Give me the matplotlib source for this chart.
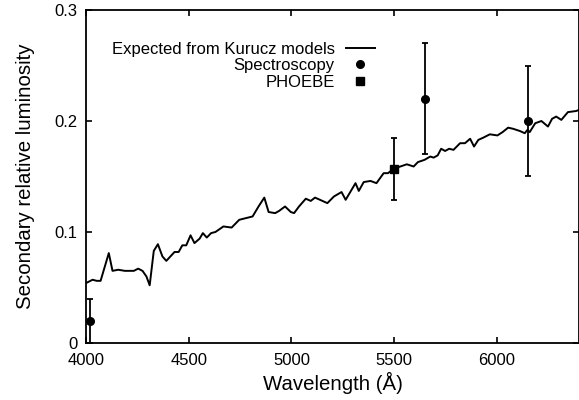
import matplotlib
matplotlib.use("Agg")
import matplotlib.pyplot as plt

plt.rcParams['font.family'] = ['Liberation Sans', 'DejaVu Sans']
plt.rcParams['font.size'] = 12

# Kurucz model curve
wl = [4000, 4011, 4032, 4052, 4071, 4111, 4129, 4157, 4189, 4213, 4233, 4254, 4275,
      4294, 4310, 4330, 4350, 4372, 4391, 4431, 4451, 4469, 4488, 4509, 4528, 4553,
      4569, 4588, 4609, 4630, 4669, 4709, 4746, 4811, 4840, 4868, 4889, 4921, 4940,
      4969, 4997, 5013, 5037, 5070, 5094, 5115, 5175, 5207, 5244, 5264, 5296, 5312,
      5328, 5352, 5385, 5414, 5449, 5470, 5498, 5530, 5562, 5595, 5616, 5648, 5676,
      5692, 5712, 5729, 5748, 5768, 5789, 5821, 5845, 5870, 5889, 5910, 5934, 5966,
      6003, 6028, 6055, 6079, 6112, 6136, 6149, 6160, 6187, 6217, 6249, 6269, 6289,
      6314, 6346, 6386, 6400]
lum = [0.054, 0.055, 0.057, 0.056, 0.056, 0.081, 0.065, 0.066, 0.065, 0.065, 0.065, 0.067, 0.065,
       0.060, 0.052, 0.083, 0.089, 0.078, 0.074, 0.082, 0.082, 0.088, 0.088, 0.097, 0.090, 0.094,
       0.099, 0.095, 0.099, 0.100, 0.105, 0.104, 0.111, 0.114, 0.123, 0.131, 0.118, 0.117, 0.119,
       0.123, 0.118, 0.117, 0.123, 0.130, 0.128, 0.131, 0.126, 0.132, 0.136, 0.129, 0.139, 0.144,
       0.137, 0.145, 0.146, 0.144, 0.153, 0.153, 0.157, 0.159, 0.161, 0.159, 0.163, 0.165, 0.168,
       0.167, 0.169, 0.175, 0.173, 0.175, 0.174, 0.180, 0.180, 0.184, 0.177, 0.183, 0.185, 0.188,
       0.187, 0.190, 0.194, 0.193, 0.191, 0.189, 0.192, 0.190, 0.198, 0.200, 0.195, 0.202, 0.204,
       0.201, 0.208, 0.209, 0.210]

# spectroscopy points
spec_wl = [4020, 5650, 6150]
spec_lum = [0.02, 0.22, 0.20]
spec_err = [0.02, 0.05, 0.05]

# PHOEBE point
ph_wl = [5500]
ph_lum = [0.157]
ph_err = [0.028]

fig = plt.figure(figsize=(5.79, 4.00), dpi=100)
ax = fig.add_axes([86 / 579, 57 / 400, 493 / 579, 333 / 400])

ax.plot(wl, lum, color='black', lw=1.4, label='Expected from Kurucz models')
ax.errorbar(spec_wl, spec_lum, yerr=spec_err, fmt='o', color='black', ms=5.5,
            capsize=2, elinewidth=1.3, capthick=1.3, label='Spectroscopy')
ax.errorbar(ph_wl, ph_lum, yerr=ph_err, fmt='s', color='black', ms=5.5,
            capsize=2, elinewidth=1.3, capthick=1.3, label='PHOEBE')

ax.set_xlim(4000, 6400)
ax.set_ylim(0, 0.3)
ax.set_xticks([4000, 4500, 5000, 5500, 6000])
ax.set_yticks([0, 0.1, 0.2, 0.3])
ax.set_yticklabels(['0', '0.1', '0.2', '0.3'])
ax.tick_params(direction='in', top=True, right=True, length=4, width=1.2)
ax.tick_params(axis='x', pad=7)
ax.tick_params(axis='y', pad=6)
for s in ax.spines.values():
    s.set_linewidth(1.3)

ax.set_xlabel('Wavelength (Å)', fontsize=14.7, labelpad=3)
ax.set_ylabel('Secondary relative luminosity', fontsize=14.7, labelpad=14)

h, l = ax.get_legend_handles_labels()
h = [h[0], h[1][0], h[2][0]]
ax.legend(h, l, loc='upper right', bbox_to_anchor=(0.586, 0.905), frameon=False,
          markerfirst=False, handlelength=1.75, handletextpad=0.65,
          labelspacing=0.1, borderpad=0, borderaxespad=0)

fig.savefig('out.png', dpi=100)
